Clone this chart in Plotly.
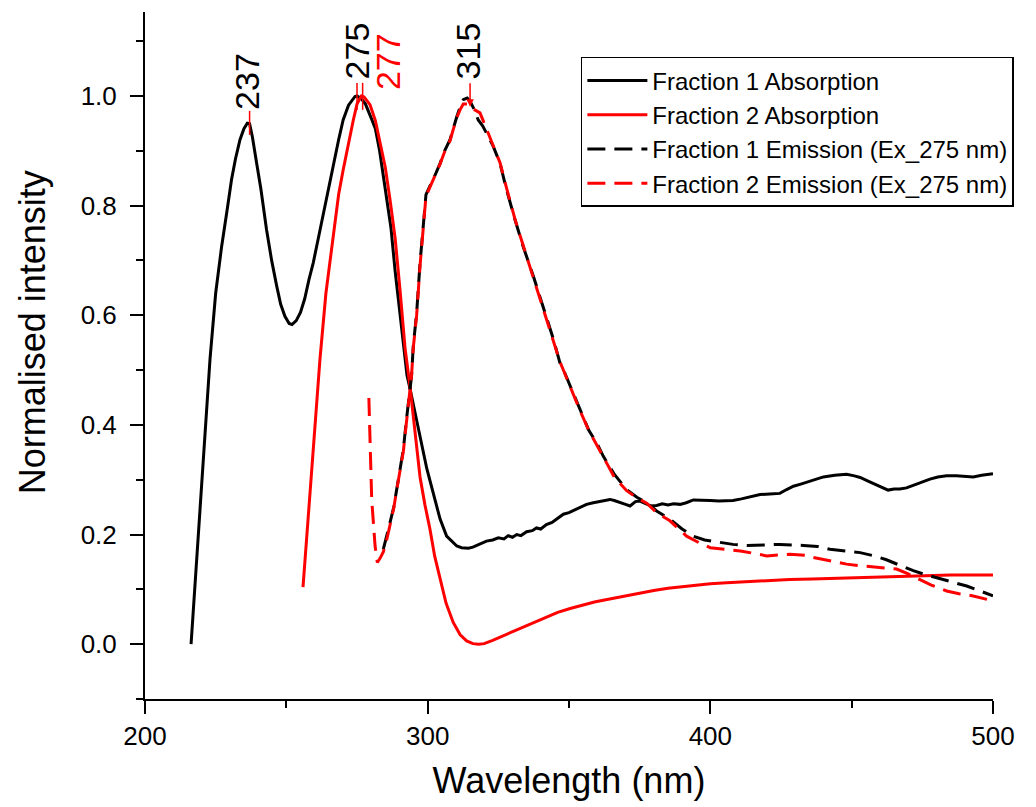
import plotly.graph_objects as go

# ---------------- data ----------------
f1_abs_x = [216.3, 218, 219.5, 221, 223, 225, 227.1, 229, 230.6, 232, 233.6, 235, 236.2, 237, 238, 239.5, 241, 243,
            244.8, 246.6, 248, 249.5, 251, 252, 253.5, 255, 256.5, 258, 259.5, 261.3, 263.1, 265, 266.6, 268.5, 270.1,
            272, 274.3, 275, 276.5, 278, 280, 281.5, 283, 285, 287, 288.5, 290, 291.5, 292.7, 293.8, 296, 298.3, 299.7,
            302, 304.4, 306.7, 309, 310.3, 312, 314.4, 316, 318, 320.8, 323, 325, 327, 328.5, 330, 331.5, 333, 335, 337,
            338.5, 340, 342, 344, 346, 348, 350, 352, 354, 356.2, 358.6, 360.5, 362, 364.5, 366, 368, 370, 371.6, 373.5,
            375.1, 377, 379, 381, 383, 385, 387, 389.3, 391.5, 394, 397, 400, 403, 405.8, 408, 411, 414, 417.6, 421,
            424.6, 427, 429.4, 432, 435.3, 438, 440, 444, 448.2, 451, 453, 456, 459, 462.9, 465, 467, 469.4, 472, 475,
            477.7, 480.5, 483.6, 487, 490, 493, 496, 500]
f1_abs_y = [0.0, 0.13, 0.25, 0.37, 0.52, 0.64, 0.725, 0.79, 0.847, 0.885, 0.92, 0.94, 0.95, 0.949, 0.925, 0.877, 0.83,
            0.756, 0.70, 0.653, 0.62, 0.598, 0.585, 0.583, 0.59, 0.605, 0.63, 0.665, 0.695, 0.74, 0.786, 0.835, 0.877,
            0.92, 0.956, 0.983, 0.999, 1.0, 0.995, 0.985, 0.96, 0.94, 0.9, 0.83, 0.76, 0.68, 0.61, 0.54, 0.49, 0.465,
            0.41, 0.355, 0.32, 0.275, 0.228, 0.197, 0.185, 0.179, 0.176, 0.175, 0.177, 0.182, 0.188, 0.19, 0.194,
            0.192, 0.198, 0.195, 0.2, 0.198, 0.205, 0.207, 0.212, 0.21, 0.218, 0.222, 0.23, 0.237, 0.24, 0.245, 0.25,
            0.255, 0.258, 0.26, 0.262, 0.264, 0.262, 0.259, 0.255, 0.252, 0.26, 0.261, 0.256, 0.252, 0.253, 0.256,
            0.254, 0.256, 0.255, 0.258, 0.263, 0.263, 0.262, 0.261, 0.261, 0.262, 0.265, 0.268, 0.273, 0.274, 0.275,
            0.282, 0.288, 0.292, 0.297, 0.302, 0.305, 0.308, 0.31, 0.307, 0.304, 0.297, 0.29, 0.281, 0.283, 0.283,
            0.285, 0.29, 0.296, 0.301, 0.305, 0.307, 0.307, 0.306, 0.305, 0.308, 0.311]

f2_abs_x = [255.9, 257.5, 259.5, 261.9, 264, 266.6, 268.5, 270.1, 272, 273.7, 275, 276.6, 277.5, 279.6, 281.5, 283,
            285, 286.7, 288.5, 290.2, 292, 293.75, 295.5, 297.3, 299, 300.8, 302.5, 304.4, 306.5, 309, 311.5, 313.8,
            316, 318, 320, 323, 326.7, 330, 334, 338.5, 342, 346, 350.4, 355, 359, 362.1, 366, 370, 375, 380, 385,
            390, 395, 400, 405.8, 412, 420, 428, 436, 448.2, 460, 471.8, 485, 500]
f2_abs_y = [0.104, 0.22, 0.355, 0.52, 0.64, 0.75, 0.82, 0.865, 0.915, 0.956, 0.985, 1.0, 0.998, 0.984, 0.955, 0.92,
            0.87, 0.81, 0.74, 0.647, 0.54, 0.47, 0.39, 0.305, 0.255, 0.21, 0.16, 0.118, 0.075, 0.04, 0.017, 0.006,
            0.001, 0.0, 0.001, 0.007, 0.015, 0.023, 0.032, 0.041, 0.049, 0.058, 0.065, 0.072, 0.077, 0.08, 0.084,
            0.088, 0.093, 0.098, 0.102, 0.105, 0.108, 0.11, 0.112, 0.114, 0.116, 0.118, 0.119, 0.121, 0.123, 0.125,
            0.126, 0.126]

f1_em_x = [284.3, 285.5, 286.7, 288, 289, 290.3, 291.4, 292.5, 293.5, 294.3, 294.9, 296.1, 297.3, 298.5, 299.4,
           300.5, 301.4, 303, 304.4, 306, 307.9, 309, 310.3, 311.5, 312.6, 314, 315, 316.5, 317.9, 319.5, 320.8,
           323.2, 325.6, 327.9, 330.9, 333.8, 337.4, 340.9, 344.5, 346.8, 348, 350.5, 353.9, 357, 360, 362.1, 366,
           370.4, 374, 377.5, 381, 385.7, 390, 394, 398, 403.4, 408, 412.9, 418, 424.6, 432.9, 438, 442.3, 448, 453,
           458, 462.3, 467, 471.8, 476, 480, 485, 490.7, 495, 500]
f1_em_y = [0.173, 0.195, 0.222, 0.25, 0.282, 0.32, 0.355, 0.41, 0.46, 0.489, 0.543, 0.604, 0.695, 0.774, 0.82, 0.832,
           0.841, 0.86, 0.877, 0.9, 0.92, 0.94, 0.962, 0.98, 0.993, 0.996, 0.99, 0.975, 0.956, 0.945, 0.932, 0.908,
           0.877, 0.829, 0.774, 0.725, 0.671, 0.616, 0.556, 0.513, 0.501, 0.47, 0.428, 0.39, 0.365, 0.343, 0.31,
           0.282, 0.268, 0.258, 0.243, 0.228, 0.21, 0.197, 0.19, 0.185, 0.182, 0.18, 0.181, 0.182, 0.18, 0.178,
           0.173, 0.17, 0.167, 0.161, 0.154, 0.144, 0.134, 0.127, 0.121, 0.114, 0.106, 0.098, 0.088]

f2_em_x = [279.2, 279.6, 280.2, 281.4, 282.2, 283.3, 284.3, 285.5, 286.7, 288, 289, 290.3, 291.4, 292.5, 293.5,
           294.3, 294.9, 296.1, 297.3, 298.5, 299.4, 300.5, 301.4, 303, 304.4, 306, 307.9, 309, 310.3, 311.5, 312.6,
           314, 315, 316.5, 318.5, 320.8, 323.2, 325.6, 327.9, 330.9, 333.8, 337.4, 340.9, 344.5, 346.8, 348, 350.5,
           353.9, 357, 360, 362.1, 366, 370.4, 374, 377.5, 381, 385.7, 389, 391.6, 396, 400, 405, 410.6, 415, 420,
           428.2, 434, 436.4, 442, 448.2, 453, 457.6, 462, 465.9, 470, 474.1, 478, 483.6, 488, 493, 496, 500]
f2_em_y = [0.449, 0.355, 0.264, 0.179, 0.149, 0.158, 0.168, 0.19, 0.22, 0.248, 0.28, 0.318, 0.352, 0.405, 0.455,
           0.49, 0.54, 0.6, 0.69, 0.77, 0.817, 0.83, 0.84, 0.858, 0.876, 0.898, 0.918, 0.938, 0.96, 0.975, 0.985,
           0.985, 0.978, 0.975, 0.969, 0.94, 0.91, 0.878, 0.832, 0.775, 0.727, 0.668, 0.613, 0.553, 0.515, 0.5,
           0.468, 0.426, 0.39, 0.362, 0.34, 0.305, 0.28, 0.267, 0.257, 0.24, 0.225, 0.21, 0.197, 0.185, 0.176, 0.173,
           0.17, 0.166, 0.161, 0.164, 0.162, 0.158, 0.152, 0.146, 0.143, 0.141, 0.139, 0.137, 0.128, 0.118, 0.108,
           0.097, 0.092, 0.088, 0.084, 0.079]

series_names = ["Fraction 1 Absorption", "Fraction 2 Absorption",
                "Fraction 1 Emission (Ex_275 nm)", "Fraction 2 Emission (Ex_275 nm)"]

# peak labels
peak_x = [237, 275, 277]
peak_y = [0.949, 1.0, 1.0]
peak_labels = ["237", "275", "277"]
em_peak_x = 315
em_peak_y = 0.98
em_peak_label = "315"

x_ticks = [200, 300, 400, 500]
y_ticks = [0.0, 0.2, 0.4, 0.6, 0.8, 1.0]

FONT = "Liberation Sans, Arial, sans-serif"
BLACK = "#000000"
RED = "#ff0000"
DASH = "18px,9px"

fig = go.Figure()
fig.add_trace(go.Scatter(x=f1_abs_x, y=f1_abs_y, mode="lines", name=series_names[0],
                         line=dict(color=BLACK, width=3)))
fig.add_trace(go.Scatter(x=f2_abs_x, y=f2_abs_y, mode="lines", name=series_names[1],
                         line=dict(color=RED, width=3)))
fig.add_trace(go.Scatter(x=f1_em_x, y=f1_em_y, mode="lines", name=series_names[2],
                         line=dict(color=BLACK, width=3, dash=DASH)))
fig.add_trace(go.Scatter(x=f2_em_x, y=f2_em_y, mode="lines", name=series_names[3],
                         line=dict(color=RED, width=3, dash=DASH)))

shapes = []
annotations = []
label_colors = [BLACK, BLACK, RED]
label_xshift = [-2, 0, 26]
label_yshift = [12, 14, 4]
line_dn = [-11, -14, -14]
line_up = [13, 13, 13]
for i in range(len(peak_x)):
    shapes.append(dict(type="line", xref="x", yref="y", ysizemode="pixel", yanchor=peak_y[i],
                       x0=peak_x[i], x1=peak_x[i], y0=line_dn[i], y1=line_up[i],
                       line=dict(color=RED, width=1.5)))
    annotations.append(dict(x=peak_x[i], y=peak_y[i], xref="x", yref="y", text=peak_labels[i],
                            showarrow=False, textangle=-90, xanchor="center", yanchor="bottom",
                            xshift=label_xshift[i], yshift=label_yshift[i],
                            font=dict(family=FONT, size=34, color=label_colors[i])))
# emission peak: red arrow + label
annotations.append(dict(x=em_peak_x, y=em_peak_y, xref="x", yref="y", text="",
                        showarrow=True, arrowhead=2, arrowsize=1, arrowwidth=1.5, arrowcolor=RED,
                        ax=0, ay=-25))
annotations.append(dict(x=em_peak_x, y=em_peak_y, xref="x", yref="y", text=em_peak_label,
                        showarrow=False, textangle=-90, xanchor="center", yanchor="bottom",
                        xshift=-2, yshift=25, font=dict(family=FONT, size=34, color=BLACK)))
# y axis title
annotations.append(dict(x=-0.133, y=0.534, xref="paper", yref="paper", text="Normalised intensity",
                        showarrow=False, textangle=-90, xanchor="center", yanchor="middle",
                        font=dict(family=FONT, size=36, color=BLACK)))

fig.update_layout(
    width=1036, height=807,
    margin=dict(l=145, r=43, t=12, b=108, autoexpand=False),
    paper_bgcolor="white", plot_bgcolor="white",
    font=dict(family=FONT, color=BLACK),
    showlegend=True,
    legend=dict(x=0.514, y=0.9345, xanchor="left", yanchor="top",
                bordercolor=BLACK, borderwidth=1.5, bgcolor="white",
                font=dict(family=FONT, size=24, color=BLACK),
                itemwidth=60, tracegroupgap=0),
    shapes=shapes,
    annotations=annotations,
)
fig.update_xaxes(range=[200, 500], tickvals=x_ticks, ticks="outside", ticklen=13, tickwidth=2,
                 tickcolor=BLACK, showline=True, linecolor=BLACK, linewidth=2, showgrid=False,
                 zeroline=False, tickfont=dict(family=FONT, size=26, color=BLACK),
                 minor=dict(dtick=50, ticks="outside", ticklen=7, tickwidth=2, tickcolor=BLACK, showgrid=False),
                 title=dict(text="Wavelength (nm)", font=dict(family=FONT, size=36, color=BLACK), standoff=18))
fig.update_yaxes(range=[-0.1, 1.153], tickvals=y_ticks, tickformat=".1f", ticks="outside", ticklen=13,
                 tickwidth=2, tickcolor=BLACK, showline=True, linecolor=BLACK, linewidth=2, showgrid=False,
                 zeroline=False, tickfont=dict(family=FONT, size=26, color=BLACK), ticklabelstandoff=8,
                 minor=dict(dtick=0.1, tick0=0, ticks="outside", ticklen=7, tickwidth=2, tickcolor=BLACK,
                            showgrid=False))

fig.write_html("out.html")
